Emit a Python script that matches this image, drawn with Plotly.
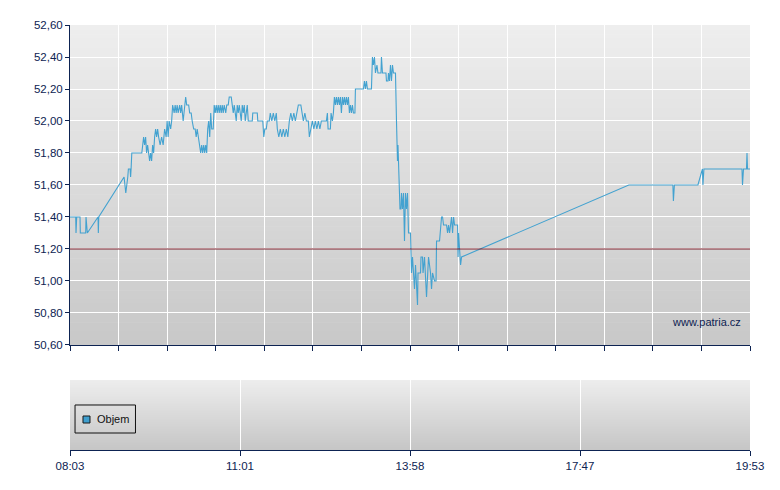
import plotly.graph_objects as go

# ---- data (x = trade sequence position, 0..679; price in CZK) ----
seq = [0, 5.7, 6, 6.7, 10, 10.3, 15.7, 16, 17.3, 28, 28.3, 28.7, 54,
       55.7, 57.7, 58.3, 60, 60.5, 61, 61.7, 71.7, 72.5, 73.5, 74.5, 75.5, 76.5, 77.5, 78.5, 79.5,
       80.5, 81.5, 82.5, 83.5, 84.5, 85.5, 86.5, 87.5, 88.5, 90, 91.5, 93, 94.5, 96, 97, 98, 99,
       100.5, 101.5, 102.5, 104, 105, 106, 107, 108, 109.5, 110.5, 111.5, 113, 114, 115.5, 116.5,
       118.5, 119.5, 121, 122, 123.5, 125, 126, 127, 128, 129.5, 130.5, 131.5, 132.5, 133.5, 134.5,
       135.5, 136.5, 137.5, 138.5, 139.5, 140.5, 141.5, 143, 144, 145, 146, 147, 148, 149, 150, 151,
       152, 153, 154, 155.5, 156.5, 158, 159, 161, 162, 163, 164, 165, 166, 167, 168, 169, 170, 171,
       172, 173, 174, 175, 176, 177, 178, 182, 182.5, 187, 187.5, 192.5, 193.5, 194.5, 196, 197, 199,
       200, 201.5, 203, 204.5, 206, 207, 208.5, 210, 211.5, 213, 214.5, 216, 217.5, 219, 220.5, 222,
       223.5, 225, 226.5, 228, 230.5, 231.5, 233, 234.5, 236, 238, 239, 240.5, 242, 243.5, 245, 246.5,
       248, 249.5, 251, 256, 257, 257.7, 260, 260.7, 262, 263, 264, 265, 266, 267, 268, 269, 270, 271,
       272, 273, 274, 275, 276, 277, 278, 279, 280, 281, 282, 283, 284.5, 285, 293, 294, 295, 296, 297,
       301, 302, 303, 304, 305, 306.5, 307.5, 310.5, 311, 312, 315.5, 316, 317.5, 318, 319, 320, 321,
       322, 323, 325, 326, 326.5, 327, 327.5, 328.5, 329.5, 330.5, 331, 332, 333, 334, 335, 336, 337,
       338, 340, 341, 342, 343, 344, 345, 346, 347, 347.5, 350, 350.5, 352, 352.5, 354, 356, 358, 360,
       361, 362, 364, 365.5, 366, 369, 371, 372, 373, 376, 377, 378, 379, 380, 381, 382, 383, 384, 387,
       387.5, 388, 389, 390, 391, 558, 602, 602.5, 603.5, 627, 631.5, 632, 633, 671, 671.5, 672.5,
       675.5, 676, 676.5, 679]

price = [51.40, 51.40, 51.30, 51.40, 51.40, 51.30, 51.30, 51.40, 51.30, 51.40, 51.30, 51.40, 51.65,
         51.55, 51.65, 51.70, 51.70, 51.65, 51.70, 51.80, 51.80, 51.85, 51.90, 51.85, 51.90, 51.80, 51.85, 51.80, 51.75,
         51.80, 51.75, 51.85, 51.80, 51.90, 51.95, 51.90, 51.95, 51.90, 51.85, 51.90, 51.85, 51.95, 51.90, 52.00, 51.90, 52.00,
         51.95, 52.00, 52.10, 52.05, 52.10, 52.05, 52.10, 52.05, 52.10, 52.05, 52.10, 52.00, 52.05, 52.15, 52.10,
         52.10, 52.05, 52.05, 52.00, 51.95, 51.95, 51.90, 51.95, 51.90, 51.85, 51.80, 51.85, 51.80, 51.85, 51.80,
         51.85, 51.80, 51.95, 52.00, 51.90, 52.05, 51.95, 51.95, 52.10, 52.05, 52.10, 52.05, 52.10, 52.05, 52.10, 52.05,
         52.10, 52.05, 52.10, 52.05, 52.10, 52.10, 52.15, 52.15, 52.10, 52.05, 52.10, 52.05, 52.00, 52.10, 52.05, 52.10, 52.05, 52.00,
         52.10, 52.05, 52.10, 52.00, 52.05, 52.10, 52.00, 52.00, 52.05, 52.05, 52.00, 52.00, 51.90, 51.95, 51.95, 52.00, 52.00,
         52.05, 52.00, 52.05, 52.00, 52.05, 51.95, 51.90, 51.95, 51.90, 51.95, 51.90, 51.95, 51.90, 52.00, 52.05, 52.00,
         52.05, 52.00, 52.05, 52.10, 52.10, 52.05, 52.00, 52.05, 52.00, 52.00, 51.90, 51.95, 52.00, 51.95, 52.00, 51.95,
         52.00, 51.95, 52.00, 52.00, 52.05, 51.95, 51.95, 52.05, 52.00, 52.05, 52.15, 52.10, 52.15, 52.10, 52.15, 52.10, 52.15, 52.05,
         52.15, 52.10, 52.15, 52.10, 52.15, 52.10, 52.15, 52.05, 52.10, 52.05, 52.10, 52.05, 52.05, 52.20, 52.20, 52.25, 52.20, 52.25, 52.20,
         52.20, 52.40, 52.35, 52.40, 52.30, 52.35, 52.30, 52.30, 52.40, 52.30, 52.30, 52.25, 52.25, 52.30, 52.25, 52.35, 52.25,
         52.35, 52.30, 52.30, 52.00, 51.85, 51.75, 51.85, 51.70, 51.45, 51.45, 51.55, 51.45, 51.55, 51.25, 51.55, 51.45, 51.55,
         51.30, 51.30, 51.05, 51.15, 51.05, 50.95, 51.10, 51.00, 50.85, 51.05, 51.05, 51.15, 51.15, 51.05, 51.15, 50.90, 51.15, 51.05,
         50.95, 51.05, 51.00, 51.00, 51.25, 51.25, 51.40, 51.40, 51.35, 51.35, 51.30, 51.35, 51.30, 51.35, 51.40, 51.30, 51.40, 51.35, 51.35,
         51.15, 51.30, 51.20, 51.10, 51.15, 51.60, 51.60, 51.50, 51.60, 51.60, 51.70, 51.60, 51.70, 51.70, 51.60, 51.70,
         51.70, 51.80, 51.70, 51.70]

reference_price = 51.20
y_ticks = [50.60, 50.80, 51.00, 51.20, 51.40, 51.60, 51.80, 52.00, 52.20, 52.40, 52.60]
time_tick_pos = [0, 169.75, 339.5, 509.25, 679]
time_tick_labels = ["08:03", "11:01", "13:58", "17:47", "19:53"]
legend_label = "Objem"
watermark = "www.patria.cz"

NAVY = "#0d2352"
FONT = "Liberation Sans, Arial, sans-serif"
LINE_BLUE = "#43a2d0"

fig = go.Figure()
fig.add_trace(go.Scatter(x=seq, y=price, mode="lines", showlegend=False,
                         line=dict(color=LINE_BLUE, width=1.1), hoverinfo="x+y",
                         xaxis="x", yaxis="y"))
# empty volume panel trace (keeps the axes alive)
fig.add_trace(go.Bar(x=[], y=[], name=legend_label, showlegend=False,
                     marker_color=LINE_BLUE, xaxis="x2", yaxis="y2"))

shapes = []


def gradient(xref, yref, top, bottom, n=70):
    out = []
    for i in range(n):
        f = i / (n - 1)
        c = round(top + (bottom - top) * f)
        y1 = 1 - i / n
        y0 = 1 - (i + 1) / n - 0.002
        out.append(dict(type="rect", xref=xref, yref=yref, x0=0, x1=1, y0=max(y0, 0), y1=y1,
                        fillcolor=f"rgb({c},{c},{c})", line=dict(width=0), layer="below"))
    return out


shapes += gradient("x domain", "y domain", 238, 200)
shapes += gradient("x2 domain", "y2 domain", 237, 198)

# reference line
shapes.append(dict(type="line", xref="x domain", yref="y", x0=0, x1=1,
                   y0=reference_price, y1=reference_price,
                   line=dict(color="#7a1e2a", width=1), layer="above"))

# volume legend box
shapes.append(dict(type="rect", xref="paper", yref="paper", x0=0.0074, x1=0.0963,
                   y0=0.040, y1=0.1059, line=dict(color="#111111", width=1),
                   fillcolor="rgba(0,0,0,0)"))
shapes.append(dict(type="rect", xref="paper", yref="paper", x0=0.0191, x1=0.0294,
                   y0=0.0635, y1=0.080, line=dict(color="#1a1a1a", width=1),
                   fillcolor="#3f9fcf"))

annotations = [
    dict(text=legend_label, xref="paper", yref="paper", x=0.0368, y=0.0718,
         xanchor="left", yanchor="middle", showarrow=False,
         font=dict(family=FONT, size=11, color="#111111")),
    dict(text=watermark, xref="x domain", yref="y domain", x=0.9897, y=0.072,
         xanchor="right", yanchor="middle", showarrow=False,
         font=dict(family=FONT, size=11, color=NAVY)),
]

fig.update_layout(
    width=772, height=482,
    margin=dict(l=62, r=30, t=17, b=40),
    paper_bgcolor="white", plot_bgcolor="rgba(0,0,0,0)",
    separators=", ",
    font=dict(family=FONT, size=11, color=NAVY),
    showlegend=False,
    shapes=shapes, annotations=annotations,
    xaxis=dict(anchor="y", domain=[0, 1], range=[0, 679], tick0=0, dtick=48.5,
               showticklabels=False, ticks="outside", ticklen=5, tickcolor=NAVY,
               showgrid=True, gridcolor="white", gridwidth=1,
               showline=True, linecolor=NAVY, linewidth=1, zeroline=False,
               fixedrange=True),
    yaxis=dict(anchor="x", domain=[0.2471, 1], range=[50.6, 52.6],
               tickvals=y_ticks, tickformat=".2f", ticks="outside", ticklen=4,
               tickcolor=NAVY, showgrid=True, gridcolor="white", gridwidth=1,
               showline=True, linecolor=NAVY, linewidth=1, zeroline=False,
               tickfont=dict(family=FONT, size=11.5, color=NAVY)),
    xaxis2=dict(anchor="y2", domain=[0, 1], range=[0, 679], tickvals=time_tick_pos,
                ticktext=time_tick_labels, ticks="outside", ticklen=5, tickcolor=NAVY,
                showgrid=True, gridcolor="white", gridwidth=1,
                showline=True, linecolor=NAVY, linewidth=1, zeroline=False,
                tickfont=dict(family=FONT, size=11.5, color=NAVY)),
    yaxis2=dict(anchor="x2", domain=[0, 0.1647], range=[0, 1], showticklabels=False,
                ticks="", showgrid=False, showline=False, zeroline=False),
)

fig.write_html("out.html")
